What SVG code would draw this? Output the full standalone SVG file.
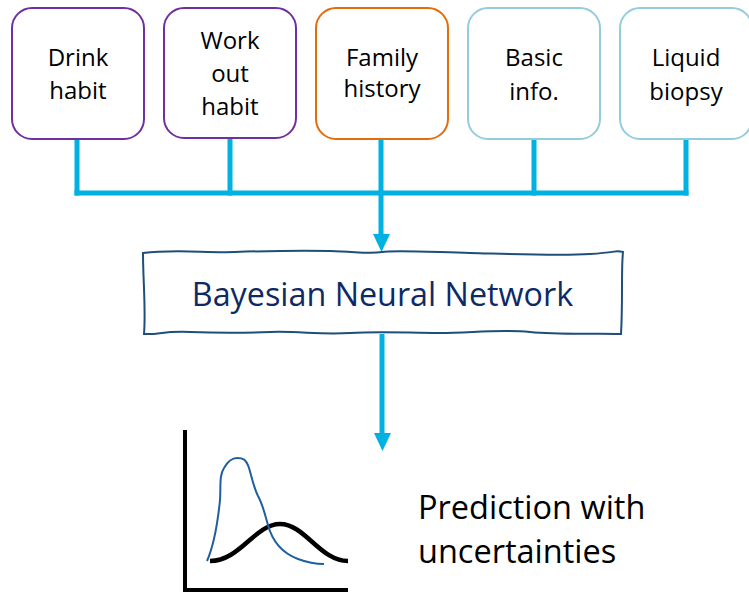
<svg xmlns="http://www.w3.org/2000/svg" width="749" height="593" viewBox="0 0 749 593">
<defs>
<style>
.box{fill:#fff;stroke-width:2}
.purple{stroke:#7030A0}
.orange{stroke:#E46C0A}
.lblue{stroke:#93CDDD}
.t{font-family:"Open Sans","Liberation Sans",sans-serif;font-size:24px;fill:#000;text-anchor:middle}
.conn{stroke:#00B2E2;stroke-width:5;fill:none;stroke-linecap:square}
.big{font-family:"Open Sans","Liberation Sans",sans-serif;font-size:32.5px;fill:#000}
</style>
</defs>
<rect width="749" height="593" fill="#fff"/>

<g id="connectors">
<path class="conn" d="M77,140 V193 M230,140 V193 M381,140 V193 M534,140 V193 M686,140 V193"/>
<path class="conn" d="M77,193 H686" stroke-width="6"/>
<path class="conn" style="stroke-linecap:butt" d="M381,193 V234"/>
<path d="M373,234 L390,234 L381.5,252 Z" fill="#00B2E2"/>
<path class="conn" style="stroke-linecap:butt" d="M382,334 V434"/>
<path d="M374,433 L391,433 L382.5,451 Z" fill="#00B2E2"/>
</g>

<g id="drink">
<rect class="box purple" x="12" y="8" width="132" height="131" rx="20"/>
<text class="t" x="78" y="66">Drink</text>
<text class="t" x="78" y="99">habit</text>
</g>
<g id="workout">
<rect class="box purple" x="164" y="8" width="132" height="130" rx="20"/>
<text class="t" x="230" y="49">Work</text>
<text class="t" x="230" y="82">out</text>
<text class="t" x="230" y="115">habit</text>
</g>
<g id="family">
<rect class="box orange" x="316" y="8" width="132" height="131" rx="20"/>
<text class="t" x="382" y="66">Family</text>
<text class="t" x="382" y="97">history</text>
</g>
<g id="basic">
<rect class="box lblue" x="468" y="8" width="132" height="131" rx="20"/>
<text class="t" x="534" y="66">Basic</text>
<text class="t" x="534" y="100">info.</text>
</g>
<g id="liquid">
<rect class="box lblue" x="620" y="8" width="132" height="131" rx="20"/>
<text class="t" x="686" y="66">Liquid</text>
<text class="t" x="686" y="100">biopsy</text>
</g>

<g id="bnn">
<path d="M143,253 C175,249 205,253 235,252 S300,250 330,251 S370,254 382,252 S430,252 470,253 S560,256 590,254 S615,250 623,252 C621,270 623,300 621,334 C600,333 560,335 530,332 S470,333 440,333 S380,331 350,333 S300,331 270,332 S220,333 190,332 S160,335 144,334 C146,310 143,280 143,253 Z" fill="#fff" stroke="#1F4E79" stroke-width="2"/>
<text x="382.5" y="306" font-family="'Open Sans','Liberation Sans',sans-serif" font-size="32.3" fill="#0E2A66" text-anchor="middle">Bayesian Neural Network</text>
</g>

<g id="chart">
<path d="M185,430 V590 H348" fill="none" stroke="#000" stroke-width="4"/>
<path d="M210,561 C240,561 255,524 280,524 C305,524 320,561 348,561" fill="none" stroke="#000" stroke-width="4.5"/>
<path d="M207,561 C214,545 218,520 220,500 C221,485 219,476 224,468 C228,461 232,458 237,458 C243,458 246,459 249,468 C252,478 254,488 258,496 C263,505 265,515 268,525 C272,540 282,553 298,559 C306,562 313,564 324,564" fill="none" stroke="#1F5FA0" stroke-width="2"/>
</g>

<g id="prediction">
<text class="big" x="418" y="519">Prediction with</text>
<text class="big" x="418" y="563">uncertainties</text>
</g>
</svg>
